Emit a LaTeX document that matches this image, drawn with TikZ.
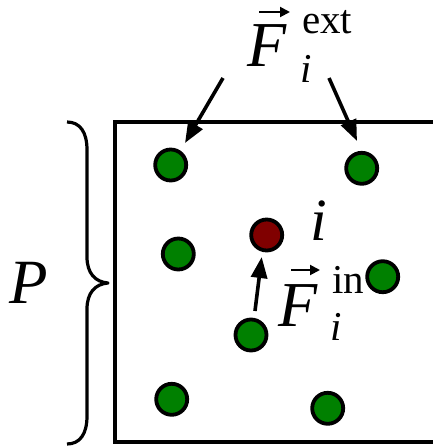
\documentclass[tikz,border=0pt]{standalone}
\usepackage{fontspec}
\setmainfont{Liberation Serif}
\usetikzlibrary{arrows.meta}
\definecolor{ballgreen}{RGB}{0,128,0}
\definecolor{ballred}{RGB}{128,0,0}
\begin{document}
\begin{tikzpicture}[x=1pt,y=-1pt,
  ball/.style={circle,draw=black,line width=3.8pt,minimum size=31pt,inner sep=0pt,fill=ballgreen},
  frc/.style={line width=3.6pt,-{Triangle[length=21pt,width=16pt]}},
  vecarr/.style={line width=2pt,-{Triangle[length=10pt,width=10pt]}},
  big/.style={inner sep=0pt,font=\fontsize{60}{64}\selectfont\itshape},
  bigF/.style={inner sep=0pt,font=\fontsize{64}{68}\selectfont\itshape},
  scr/.style={inner sep=0pt,font=\fontsize{41}{44}\selectfont},
  scri/.style={inner sep=0pt,font=\fontsize{41}{44}\selectfont\itshape},
  edge/.style={line width=3.8pt}]
\useasboundingbox (0,0) rectangle (433,448);
\clip (0,0) rectangle (433,448);
% frame (open to the right)
\draw[edge] (445,122) -- (115,122) -- (115,442) -- (445,442);
% brace
\draw[edge,line width=3.2pt,line join=round] (67,122) .. controls (80,122) and (87,132) .. (87,150) -- (87,257)
  .. controls (87,273) and (95,282) .. (108,283)
  .. controls (95,284) and (87,293) .. (87,309) -- (87,416)
  .. controls (87,434) and (80,444) .. (67,444);
\node[inner sep=0pt,font=\fontsize{63}{66}\selectfont\itshape,anchor=base west] (P) at (9,303) {P};
% particles
\node[ball] (g1) at (170.7,165) {};
\node[ball] (g2) at (361.7,168.3) {};
\node[ball] (g3) at (178.3,254) {};
\node[ball,fill=ballred] (r) at (266.7,235) {};
\node[ball] (g4) at (382.7,276.7) {};
\node[ball] (g5) at (251,335) {};
\node[ball] (g6) at (171.7,399.3) {};
\node[ball] (g7) at (327.7,408.3) {};
% external force label
\node[bigF,anchor=base west] (Fe) at (247,66) {F};
\node[scr,anchor=base west] (ext) at (302,33) {ext};
\node[scri,anchor=base west] (ie) at (300,82) {i};
\coordinate (ve1) at (259,12);
\coordinate (ve2) at (290,12);
\draw[vecarr] (ve1) -- (ve2);
% external force arrows
\coordinate (a1s) at (223,78);
\coordinate (a1e) at (185,143);
\coordinate (a2s) at (329,78);
\coordinate (a2e) at (357,141);
\draw[frc] (a1s) -- (a1e);
\draw[frc] (a2s) -- (a2e);
% internal force
\coordinate (bs) at (255,311);
\coordinate (be) at (261.7,257);
\draw[frc] (bs) -- (be);
\node[bigF,anchor=base west] (Fi) at (278,326) {F};
\node[scr,anchor=base west] (in) at (332,293) {in};
\node[scri,anchor=base west] (ii) at (330,340) {i};
\coordinate (vi1) at (291,270);
\coordinate (vi2) at (320,270);
\draw[vecarr] (vi1) -- (vi2);
% particle label
\node[big,anchor=base west] (il) at (310,240) {i};
\end{tikzpicture}
\end{document}
